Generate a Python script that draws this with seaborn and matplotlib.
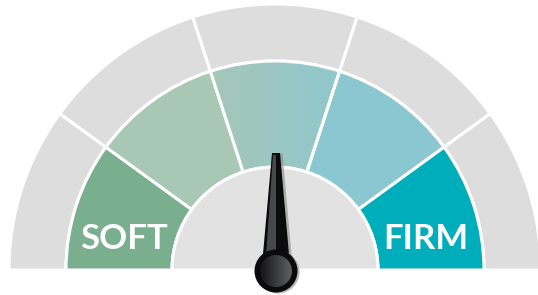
import numpy as np
import matplotlib.pyplot as plt
import seaborn as sns
from matplotlib.patches import Wedge, Circle, Polygon

# =========================
# DATA
# =========================
zone_edges = [0, 20, 40, 60, 80, 100]
zone_labels = ["SOFT", "", "", "", "FIRM"]
needle_value = 50

# =========================
# STYLE
# =========================
sns.set_theme(style="white")
plt.rcParams["font.family"] = ["Lato", "DejaVu Sans"]

zone_colors = ["#79ae8f", "#a9c7b5", None, "#8bc7d1", "#00adba"]
mid_palette = sns.blend_palette(["#a8c6b6", "#8ec8cf"], as_cmap=True)
outer_gray = "#dddddd"
disc_gray = "#e2e2e2"

cx, cy = 275, 25
r_outer, r_mid, r_disc = 266, 209, 103


def to_angle(v):
    return 180 - v * 180 / 100


fig = plt.figure(figsize=(5.38, 2.95), dpi=100)
ax = fig.add_axes([0, 0, 1, 1])
ax.set_xlim(0, 538)
ax.set_ylim(0, 295)
ax.set_aspect("equal")
ax.axis("off")

for i in range(len(zone_labels)):
    a1 = to_angle(zone_edges[i + 1])
    a0 = to_angle(zone_edges[i])
    # outer gray ring
    ax.add_patch(Wedge((cx, cy), r_outer, a1, a0, width=r_outer - r_mid,
                       facecolor=outer_gray, edgecolor="white", lw=2.2))
    # coloured ring
    if zone_colors[i] is None:
        w = Wedge((cx, cy), r_mid, a1, a0, width=r_mid - r_disc,
                  facecolor="none", edgecolor="none")
        ax.add_patch(w)
        grad = np.linspace(0, 1, 256).reshape(1, -1)
        im = ax.imshow(grad, cmap=mid_palette, extent=[200, 350, 0, 295],
                       aspect="auto", zorder=1)
        im.set_clip_path(w)
        ax.add_patch(Wedge((cx, cy), r_mid, a1, a0, width=r_mid - r_disc,
                           facecolor="none", edgecolor="white", lw=2.2, zorder=2))
    else:
        ax.add_patch(Wedge((cx, cy), r_mid, a1, a0, width=r_mid - r_disc,
                           facecolor=zone_colors[i], edgecolor="white", lw=2.2))
    if zone_labels[i]:
        mid = np.radians((a0 + a1) / 2)
        r_txt = (r_mid + r_disc) / 2 + 3
        ax.text(cx + r_txt * np.cos(mid), 56, zone_labels[i],
                color="white", fontsize=25, fontweight="bold",
                ha="center", va="center", zorder=3)

# inner disc
ax.add_patch(Wedge((cx, cy), r_disc, 0, 180, facecolor=disc_gray,
                   edgecolor="white", lw=2.2, zorder=3))

# =========================
# NEEDLE
# =========================
hx, hy = 276, 24
ang = np.radians(to_angle(needle_value))
L = 118
ux, uy = np.cos(ang), np.sin(ang)
px, py = -uy, ux


def needle_poly(w_base, w_tip, off=0.0, length=L):
    return [(hx + px * w_base + off, hy + py * w_base),
            (hx + ux * length + px * w_tip + off, hy + uy * length + py * w_tip),
            (hx + ux * length - px * w_tip + off, hy + uy * length - py * w_tip),
            (hx - px * w_base + off, hy - py * w_base)]


ax.add_patch(Polygon(needle_poly(14.5, 4, off=2.5), closed=True,
                     facecolor="#8a8a8a", edgecolor="none", alpha=0.6, zorder=4))
ax.add_patch(Polygon(needle_poly(14.5, 4), closed=True,
                     facecolor="#0b0b0c", edgecolor="none", zorder=5))
ax.add_patch(Polygon([(hx - 11, hy), (hx - 3, hy + L - 2),
                      (hx, hy + L - 2), (hx, hy)], closed=True,
                     facecolor="#45484c", edgecolor="none", zorder=6))

# hub
ax.add_patch(Circle((hx + 2, hy - 1), 21.5, facecolor="#8a8a8a", alpha=0.6,
                    edgecolor="none", zorder=6))
ax.add_patch(Circle((hx, hy), 21.5, facecolor="#0b0b0c", edgecolor="none", zorder=7))
hub = Circle((hx, hy), 16, facecolor="none", edgecolor="none", zorder=8)
ax.add_patch(hub)
hub_cmap = sns.blend_palette(["#141416", "#5d6064"], as_cmap=True)
him = ax.imshow(np.linspace(0, 1, 128).reshape(1, -1), cmap=hub_cmap,
                extent=[hx - 16, hx + 16, hy - 16, hy + 16], aspect="auto", zorder=8)
him.set_clip_path(hub)

ax.set_xlim(0, 538)
ax.set_ylim(0, 295)

plt.savefig("out.png", dpi=100)
plt.close()
